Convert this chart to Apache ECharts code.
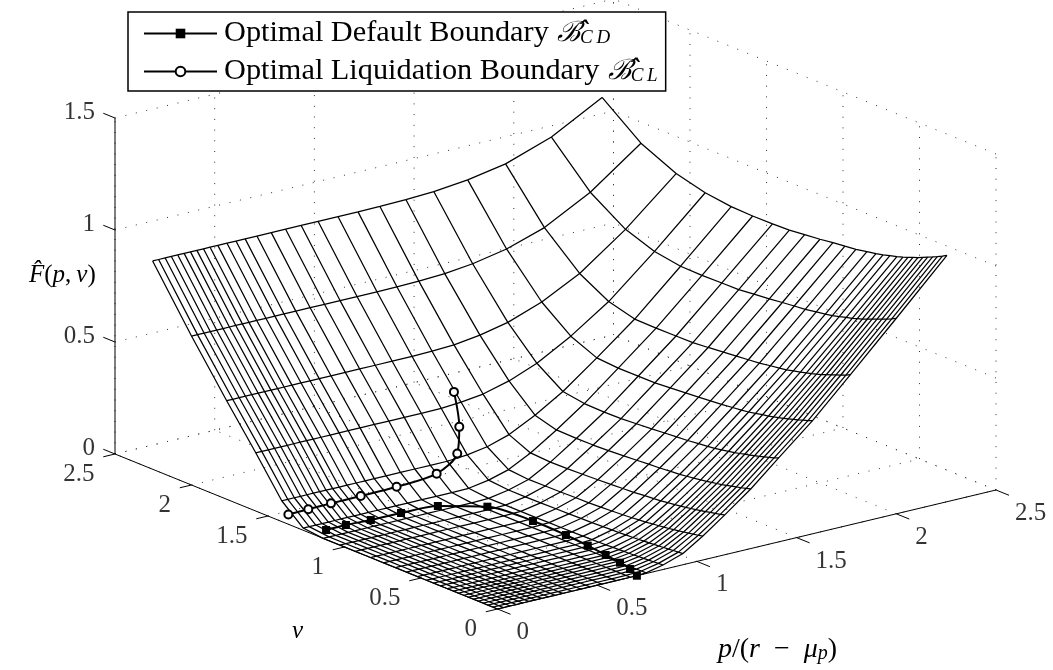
<!DOCTYPE html>
<html><head><meta charset="utf-8"><style>html,body{margin:0;padding:0;background:#fff}#c{width:1053px;height:670px}</style>
<script src="https://cdn.jsdelivr.net/npm/echarts@6/dist/echarts.min.js"></script></head><body><div id="c"></div>
<script>
const pGrid=[0,.03,.063,.094,.126,.158,.19,.222,.255,.288,.327,.373,.418,.464,.523,.595,.667,.745,.83,.93,1.03,1.14,1.27,1.41,1.58,1.77,2.0,2.254];
const vGrid=[0,.03,.063,.094,.126,.158,.19,.222,.255,.288,.327,.373,.418,.464,.523,.595,.667,.745,.83,.93,1.03,1.14,1.27,1.41,1.58,1.77,2.0,2.254];
const pTicks=[0,.5,1,1.5,2,2.5], vTicks=[0,.5,1,1.5,2,2.5], zTicks=[0,.5,1,1.5];
const cdP=[.074,.176,.293,.443,.614,.765,.797,.792,.778,.762,.747,.73,.699];
const cdV=[1.217,1.22,1.21,1.208,1.19,1.063,.807,.585,.424,.286,.173,.085,0];
const clP=[.01,.11,.224,.373,.553,.746,.9,.97,1.03];
const clV=[1.38,1.38,1.38,1.38,1.38,1.37,1.436,1.514,1.627];
const clF=[.038,.04,.042,.043,.046,.0665,.105,.188,.3];
const lowP=[0,0,0,0,0,0,0,0,0,0,0,0,0,0,0,0,0,0,0,0,0,0,10,93,260,440,665,930];
const Fmilli=[lowP,lowP,lowP,lowP,lowP,lowP,lowP,lowP,lowP,lowP,lowP,lowP,lowP,lowP,lowP,lowP,lowP,
[3,3,2,2,1,1,1,0,0,0,0,0,0,0,0,0,0,0,0,0,0,0,10,93,260,440,665,930],
[20,19,17,16,15,14,12,11,10,9,8,7,6,5,4,3,3,3,2,2,2,2,11,93,260,440,665,930],
[50,48,46,44,42,40,38,36,35,33,31,30,28,27,25,23,22,21,20,19,18,18,26,100,261,440,665,930],
[107,102,98,94,90,86,83,79,76,73,70,66,63,60,57,54,51,49,48,46,45,44,52,115,267,442,666,930],
[178,172,167,163,158,153,149,145,141,137,133,129,125,122,119,114,111,108,105,102,99,98,103,146,280,447,668,931],
[266,260,254,249,244,238,233,229,225,220,216,211,207,203,200,195,192,188,184,180,177,176,178,205,311,463,674,934],
[375,367,360,354,347,341,335,330,324,319,314,308,302,298,294,288,284,280,275,270,265,264,266,281,360,490,688,940],
[505,497,490,483,476,469,463,457,451,446,441,434,428,424,419,413,409,404,399,394,389,388,388,395,445,545,718,956],
[670,660,651,643,634,626,618,611,604,598,591,584,576,571,565,557,552,547,541,534,528,527,526,528,559,632,773,987],
[873,862,852,843,834,825,816,808,801,793,786,777,769,763,757,748,743,737,730,723,716,715,713,715,734,780,882,1058],
[1100,1088,1077,1067,1057,1047,1037,1029,1020,1012,1004,995,986,979,972,962,956,950,942,935,927,925,924,927,942,975,1047,1181]];
const F=Fmilli.map(r=>r.map(x=>x/1000));
const proj=(p,v,z)=>[497.5+199.4*p-153*v,609-47.6*p-62*v-224*z];
const series=[];
const L=(pts,st)=>series.push(Object.assign({type:'line',silent:true,symbol:'none',animation:false,data:pts,lineStyle:{color:'#000',width:1}},st||{}));
const dot={lineStyle:{color:'#333',width:1,type:[1,9.7]},z:1};
const P=(a,b)=>[proj(...a),proj(...b)];
pTicks.forEach(p=>{L(P([p,2.5,0],[p,2.5,1.5]),dot);L(P([p,0,0],[p,2.5,0]),dot);});
vTicks.forEach(v=>{L(P([2.5,v,0],[2.5,v,1.5]),dot);L(P([0,v,0],[2.5,v,0]),dot);});
zTicks.forEach(z=>{L(P([0,2.5,z],[2.5,2.5,z]),dot);L(P([2.5,0,z],[2.5,2.5,z]),dot);});
L(P([0,0,0],[2.5,0,0]));L(P([0,0,0],[0,2.5,0]));L(P([0,2.5,0],[0,2.5,1.5]));
pTicks.forEach(p=>L(P([p,0,0],[p,-.085,0])));
vTicks.forEach(v=>L(P([0,v,0],[-.0587,v,0])));
zTicks.forEach(z=>L(P([0,2.5,z],[0,2.5765,z])));
const mesh={z:3,lineStyle:{color:'#000',width:1.25}};
pGrid.forEach((p,i)=>L(vGrid.map((v,j)=>proj(p,v,F[i][j])),mesh));
vGrid.forEach((v,j)=>L(pGrid.map((p,i)=>proj(p,v,F[i][j])),mesh));
const mk=(name,sym,pts,fill)=>series.push({name,type:'line',silent:true,animation:false,smooth:.3,data:pts,symbol:sym,symbolSize:8,showSymbol:true,z:5,lineStyle:{color:'#000',width:2},itemStyle:{color:fill,borderColor:'#000',borderWidth:sym==='rect'?0:2}});
mk('Optimal Default Boundary','rect',cdP.map((p,i)=>proj(p,cdV[i],0)),'#000');
mk('Optimal Liquidation Boundary','circle',clP.map((p,i)=>proj(p,clV[i],clF[i])),'#fff');
const fs=25,ff='"Liberation Serif"';
const lab=(pts,texts,align,dx,dy)=>series.push({type:'scatter',silent:true,animation:false,symbol:'circle',symbolSize:0,z:6,data:pts.map((q,i)=>({value:q,label:{show:true,formatter:texts[i],position:[0,0],align,verticalAlign:'middle',offset:[dx,dy],fontFamily:ff,fontSize:fs,color:'#000'}}))});
lab(pTicks.map(p=>proj(p,0,0)),pTicks.map(String),'left',19,23.5);
lab(vTicks.map(v=>proj(0,v,0)),vTicks.map(String),'right',-20.5,20.5);
lab(zTicks.map(z=>proj(0,2.5,z)),zTicks.map(String),'right',-20,-6);
const rich={t:{fontFamily:ff,fontSize:30.3,lineHeight:34,color:'#000',padding:[0,0,0,2]},b:{fontFamily:'"DejaVu Serif"',fontSize:28,lineHeight:34,fontStyle:'italic',color:'#000',padding:[0,0,0,5]},s:{fontFamily:ff,fontStyle:'italic',fontSize:19,color:'#000',padding:[8,0,0,0]}};
const chart=echarts.init(document.getElementById('c'),null,{renderer:'canvas'});
chart.setOption({animation:false,backgroundColor:'#fff',
 grid:{left:0,right:0,top:0,bottom:0},
 xAxis:{type:'value',min:0,max:1053,show:false},
 yAxis:{type:'value',min:0,max:670,inverse:true,show:false},
 legend:{orient:'vertical',left:128,top:12,z:20,backgroundColor:'#fff',borderColor:'#000',borderWidth:1.5,borderRadius:0,padding:[6.5,8,4.5,15],itemWidth:73,itemHeight:12,itemGap:8,
  data:['Optimal Default Boundary','Optimal Liquidation Boundary'],
  formatter:n=>`{t|${n}} {b|ℬ̂}{s|${n.includes('Default')?'C\u2009D':'C\u2009L'}}`,textStyle:{rich}},
 graphic:[
  {type:'text',left:29,top:263,style:{rich:{a:{fontFamily:ff,fontStyle:'italic',fontSize:25,fill:'#000'},n:{fontFamily:ff,fontSize:25,fill:'#000'}},text:'{a|F̂}{n|(}{a|p}{n|,\u2009}{a|v}{n|)}'}},
  {type:'text',left:292,top:619,style:{text:'v',fontFamily:ff,fontStyle:'italic',fontSize:25,fill:'#000'}},
  {type:'text',left:718,top:636,style:{rich:{a:{fontFamily:ff,fontStyle:'italic',fontSize:28,fill:'#000'},n:{fontFamily:ff,fontSize:28,fill:'#000'},s:{fontFamily:ff,fontStyle:'italic',fontSize:20,fill:'#000',padding:[8,0,0,0]}},text:'{a|p}{n|/(}{a|r}{n|\u2002−\u2002}{a|μ}{s|p}{n|)}'}}
 ],
 series});
</script></body></html>
